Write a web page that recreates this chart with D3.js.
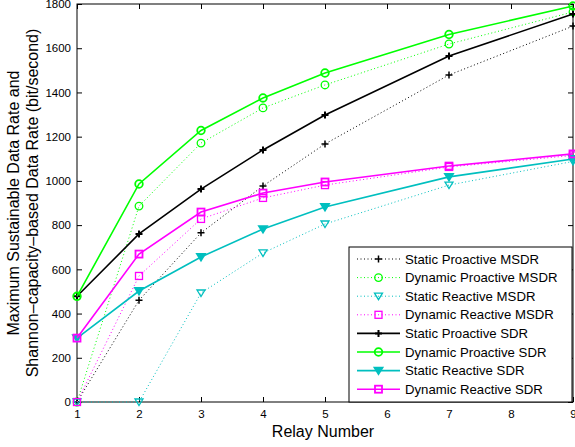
<!DOCTYPE html>
<html>
<head>
<meta charset="utf-8" />
<title>Relay data rate</title>
<script src="https://cdn.jsdelivr.net/npm/d3@7"></script>
<style>
    body { margin: 0; background: #fff; }
    text { font-family: "Liberation Sans", Arial, sans-serif; fill: #000; }
</style>
</head>
<body>
<script>
    // relay counts on the x axis
    var relays = [1, 2, 3, 4, 5, 7, 9]

    // values (bit/second)
    var staticProactiveMSDR = [0, 460, 765, 977, 1167, 1479, 1700]
    var dynamicProactiveMSDR = [0, 886, 1171, 1330, 1434, 1619, 1764]
    var staticReactiveMSDR = [0, 0, 493, 674, 805, 981, 1088]
    var dynamicReactiveMSDR = [0, 570, 828, 923, 981, 1063, 1115]
    var staticProactiveSDR = [478, 760, 963, 1140, 1298, 1565, 1755]
    var dynamicProactiveSDR = [478, 986, 1228, 1375, 1488, 1662, 1791]
    var staticReactiveSDR = [289, 502, 656, 782, 882, 1018, 1099]
    var dynamicReactiveSDR = [289, 669, 859, 945, 995, 1067, 1122]

    var xTicks = [1, 2, 3, 4, 5, 6, 7, 8, 9]
    var yTicks = [0, 200, 400, 600, 800, 1000, 1200, 1400, 1600, 1800]

    var series = [
        { name: "Static Proactive MSDR", values: staticProactiveMSDR, color: "#000000", dotted: true, marker: "plus" },
        { name: "Dynamic Proactive MSDR", values: dynamicProactiveMSDR, color: "#00ff00", dotted: true, marker: "circle" },
        { name: "Static Reactive MSDR", values: staticReactiveMSDR, color: "#00bfbf", dotted: true, marker: "tri" },
        { name: "Dynamic Reactive MSDR", values: dynamicReactiveMSDR, color: "#ff00ff", dotted: true, marker: "square" },
        { name: "Static Proactive SDR", values: staticProactiveSDR, color: "#000000", dotted: false, marker: "plus" },
        { name: "Dynamic Proactive SDR", values: dynamicProactiveSDR, color: "#00ff00", dotted: false, marker: "circle" },
        { name: "Static Reactive SDR", values: staticReactiveSDR, color: "#00bfbf", dotted: false, marker: "tri" },
        { name: "Dynamic Reactive SDR", values: dynamicReactiveSDR, color: "#ff00ff", dotted: false, marker: "square" }
    ]

    var W = 575, H = 447
    var plot = { left: 77, right: 573, top: 4, bottom: 402 }

    var svg = d3.select("body").append("svg")
        .attr("width", W).attr("height", H)

    var x = d3.scaleLinear().domain([1, 9]).range([plot.left, plot.right])
    var y = d3.scaleLinear().domain([0, 1800]).range([plot.bottom, plot.top])

    // axes with inward ticks, Matlab box style
    var TICK = 5
    svg.append("g").attr("transform", "translate(0," + plot.bottom + ")")
        .call(d3.axisBottom(x).tickValues(xTicks).tickFormat(d3.format("d"))
            .tickSizeInner(-TICK).tickSizeOuter(0).tickPadding(8))
    svg.append("g").attr("transform", "translate(0," + plot.top + ")")
        .call(d3.axisTop(x).tickValues(xTicks).tickSizeInner(-TICK).tickSizeOuter(0).tickFormat(""))
    svg.append("g").attr("transform", "translate(" + plot.left + ",0)")
        .call(d3.axisLeft(y).tickValues(yTicks).tickFormat(d3.format("d"))
            .tickSizeInner(-TICK).tickSizeOuter(0).tickPadding(6))
    svg.append("g").attr("transform", "translate(" + plot.right + ",0)")
        .call(d3.axisRight(y).tickValues(yTicks).tickSizeInner(-TICK).tickSizeOuter(0).tickFormat(""))
    svg.selectAll(".domain").remove()
    svg.selectAll(".tick line").attr("stroke", "#000").attr("stroke-width", 1)
    svg.selectAll(".tick text").style("font-size", "11.5px")
        .style("font-family", "'Liberation Sans', Arial, sans-serif")

    svg.append("rect")
        .attr("x", plot.left).attr("y", plot.top)
        .attr("width", plot.right - plot.left).attr("height", plot.bottom - plot.top)
        .attr("fill", "none").attr("stroke", "#000").attr("stroke-width", 1)

    function drawMarker(g, kind, cx, cy, color, thick) {
        var sw = thick ? 1.8 : 1.3
        if (kind == "plus") {
            g.append("path").attr("d", "M" + (cx - 3.5) + "," + cy + "h7M" + cx + "," + (cy - 3.5) + "v7")
                .attr("stroke", color).attr("stroke-width", sw + 0.2).attr("fill", "none")
        } else if (kind == "circle") {
            g.append("circle").attr("cx", cx).attr("cy", cy).attr("r", 3.8)
                .attr("stroke", color).attr("stroke-width", sw).attr("fill", "none")
        } else if (kind == "tri") {
            g.append("path").attr("d", "M" + (cx - 4) + "," + (cy - 3) + "h8l-4,6.5z")
                .attr("stroke", color).attr("stroke-width", sw)
                .attr("fill", thick ? color : "none")
        } else if (kind == "square") {
            g.append("rect").attr("x", cx - 3.5).attr("y", cy - 3.5).attr("width", 7).attr("height", 7)
                .attr("stroke", color).attr("stroke-width", sw).attr("fill", "none")
        }
    }

    var line = d3.line().x((d, i) => x(relays[i])).y(d => y(d))

    series.forEach(function (s) {
        var g = svg.append("g")
        g.append("path").datum(s.values)
            .attr("d", line)
            .attr("fill", "none")
            .attr("stroke", s.color)
            .attr("stroke-width", s.dotted ? 1 : 1.6)
            .attr("stroke-dasharray", s.dotted ? "1,2.5" : null)
        s.values.forEach(function (v, i) {
            drawMarker(g, s.marker, x(relays[i]), y(v), s.color, !s.dotted)
        })
    })

    // legend
    var leg = svg.append("g")
    leg.append("rect").attr("x", 349).attr("y", 247).attr("width", 223).attr("height", 155)
        .attr("fill", "#fff").attr("stroke", "#000").attr("stroke-width", 1)
    series.forEach(function (s, i) {
        var ly = 259 + i * 18.6
        leg.append("line").attr("x1", 357).attr("x2", 400).attr("y1", ly).attr("y2", ly)
            .attr("stroke", s.color)
            .attr("stroke-width", s.dotted ? 1 : 1.6)
            .attr("stroke-dasharray", s.dotted ? "1,2.5" : null)
        drawMarker(leg, s.marker, 378.5, ly, s.color, !s.dotted)
        leg.append("text").attr("x", 405).attr("y", ly + 4.5)
            .style("font-size", "13.2px").text(s.name)
    })

    // axis labels
    svg.append("text").attr("x", 323).attr("y", 437).attr("text-anchor", "middle")
        .style("font-size", "16px").text("Relay Number")
    var yl = svg.append("text").attr("text-anchor", "middle")
        .attr("transform", "translate(0,203) rotate(-90)")
        .style("font-size", "16px")
    yl.append("tspan").attr("x", 0).attr("y", 18.5).text("Maximum Sustainable Data Rate and")
    yl.append("tspan").attr("x", 0).attr("y", 37.5).text("Shannon\u2013capacity\u2013based Data Rate (bit/second)")
</script>
</body>
</html>
